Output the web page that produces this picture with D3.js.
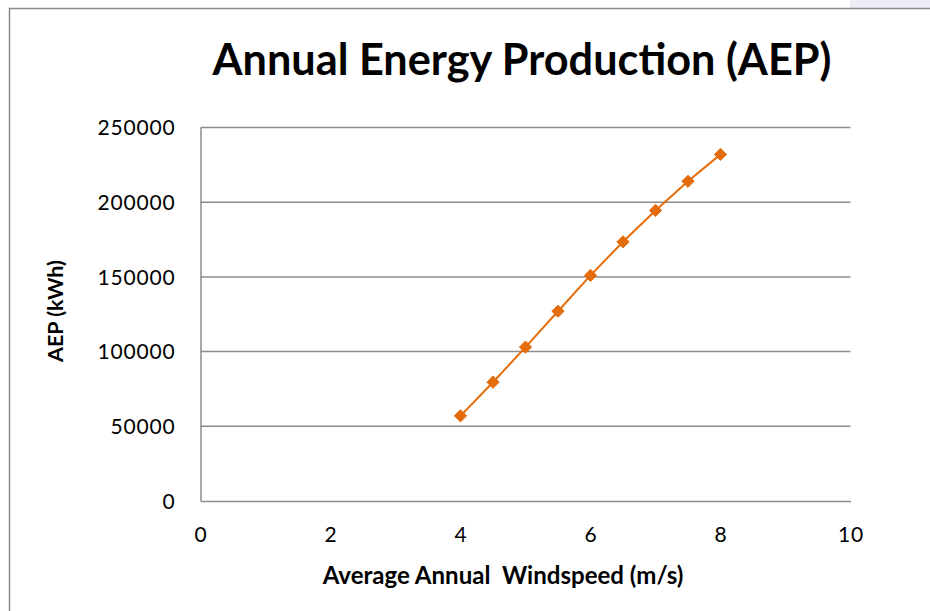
<!DOCTYPE html>
<html><head><meta charset="utf-8">
<script src="https://cdn.jsdelivr.net/npm/d3@7"></script>
<style>html,body{margin:0;padding:0;background:#fff;}svg{display:block;}</style>
</head><body>
<svg id="chart" width="930" height="611"></svg>
<script>
const windspeed = [4, 4.5, 5, 5.5, 6, 6.5, 7, 7.5, 8];
const aep = [57000, 79500, 103000, 127000, 151000, 173500, 194500, 214000, 232000];
const xTicks = [0, 2, 4, 6, 8, 10];
const yTicks = [0, 50000, 100000, 150000, 200000, 250000];
const title = "Annual Energy Production (AEP)";
const xTitle = "Average Annual  Windspeed (m/s)";
const yTitle = "AEP (kWh)";

const svg = d3.select("#chart");
const bodyFont = "Lato, 'Open Sans', sans-serif";

// faint background bit top-right
svg.append("rect").attr("x", 850).attr("y", 0).attr("width", 80).attr("height", 8).attr("fill", "#eeedf6");
// chart border
svg.append("rect").attr("x", 9.5).attr("y", 8.5).attr("width", 940).attr("height", 640)
  .attr("fill", "#fff").attr("stroke", "#8a8a8a").attr("stroke-width", 1.5);

const x = d3.scaleLinear().domain([0, 10]).range([200.5, 850.5]);
const y = d3.scaleLinear().domain([0, 250000]).range([501, 127.5]);

// gridlines
svg.append("g").selectAll("line").data(yTicks.filter(d => d > 0)).join("line")
  .attr("x1", x(0)).attr("x2", x(10)).attr("y1", d => y(d)).attr("y2", d => y(d))
  .attr("stroke", "#8c8c8c").attr("stroke-width", 1.5);

// axes
const yAxis = d3.axisLeft(y).tickValues(yTicks).tickSize(0).tickPadding(25).tickFormat(d3.format("d"));
const gy = svg.append("g").attr("transform", `translate(${x(0)},0)`).call(yAxis);
const xAxis = d3.axisBottom(x).tickValues(xTicks).tickSize(0).tickPadding(26).tickFormat(d3.format("d"));
const gx = svg.append("g").attr("transform", `translate(0,${y(0)})`).call(xAxis);
[gx, gy].forEach(g => {
  g.select(".domain").attr("stroke", "#8c8c8c").attr("stroke-width", 1.5);
  g.selectAll("text").attr("font-family", bodyFont).attr("font-size", 21)
    .attr("letter-spacing", "0.8px").attr("fill", "#000");
});
gy.selectAll("text").attr("dy", "0.35em");

// line
svg.append("path").datum(windspeed.map((w, i) => [w, aep[i]]))
  .attr("fill", "none").attr("stroke", "#E46C0A").attr("stroke-width", 2)
  .attr("d", d3.line().x(d => x(d[0])).y(d => y(d[1])));

// markers
svg.append("g").selectAll("path").data(windspeed.map((w, i) => [w, aep[i]])).join("path")
  .attr("transform", d => `translate(${x(d[0])},${y(d[1])})`)
  .attr("d", d3.symbol(d3.symbolDiamond2, 95)())
  .attr("fill", "#E46C0A").attr("stroke", "#E46C0A").attr("stroke-width", 1);

// titles
const t = svg.append("text").attr("x", 522).attr("y", 75).attr("text-anchor", "middle")
  .attr("font-family", bodyFont).attr("font-weight", "bold").attr("font-size", 44).attr("fill", "#000")
  .text(title);
const tw = t.node().getComputedTextLength();
t.attr("font-size", 44 * 619 / tw);

const xt = svg.append("text").attr("x", 503).attr("y", 584).attr("text-anchor", "middle")
  .attr("font-family", bodyFont).attr("font-weight", "bold").attr("font-size", 18).attr("fill", "#000")
  .style("white-space", "pre").text(xTitle);
const xw = xt.node().getComputedTextLength();
xt.attr("font-size", 18 * 361 / xw);

const yt = svg.append("text").attr("transform", "translate(63,311) rotate(-90)").attr("text-anchor", "middle")
  .attr("font-family", bodyFont).attr("font-weight", "bold").attr("font-size", 20).attr("fill", "#000")
  .text(yTitle);
const yw = yt.node().getComputedTextLength();
yt.attr("font-size", 20 * 102 / yw);
</script>
</body></html>
